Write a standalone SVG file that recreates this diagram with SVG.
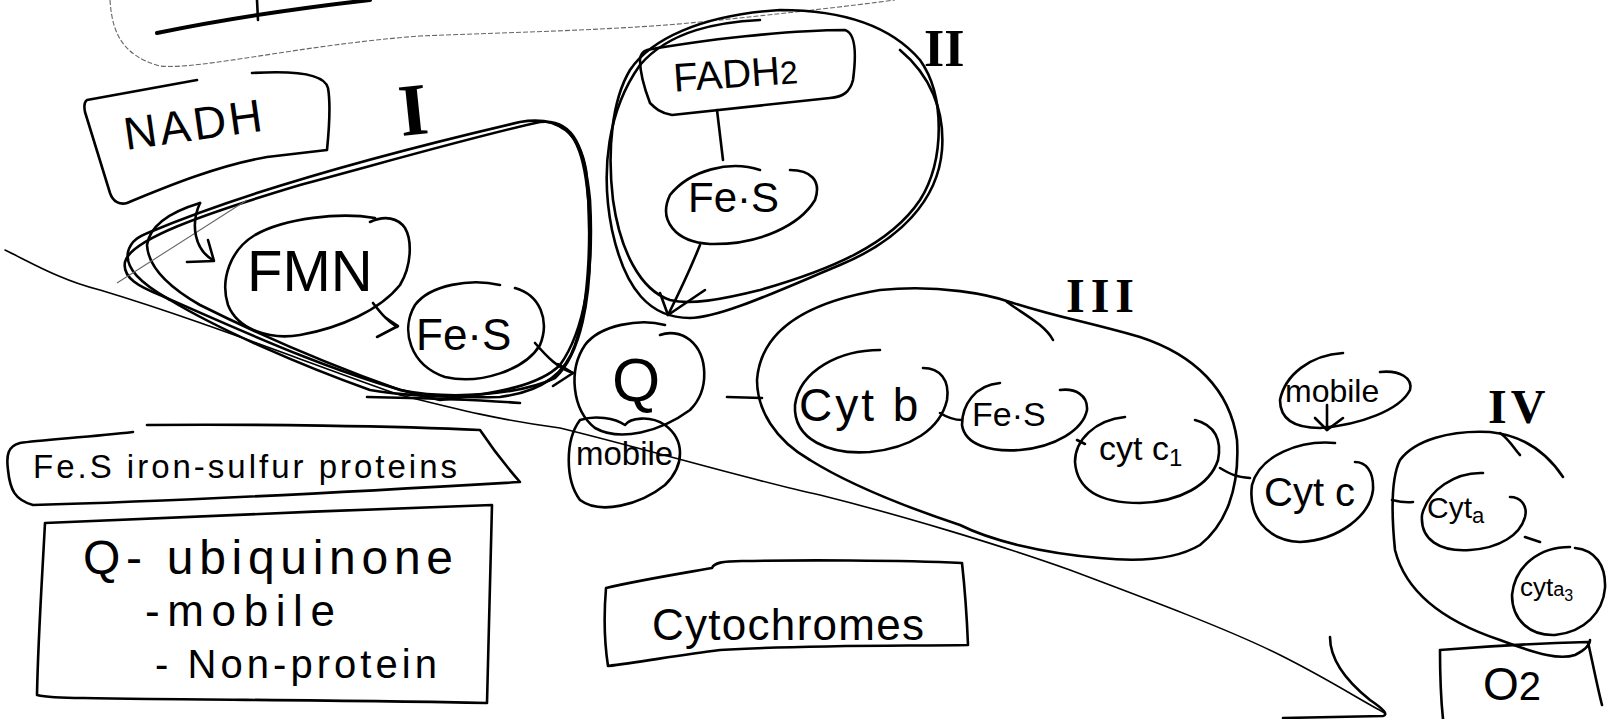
<svg xmlns="http://www.w3.org/2000/svg" width="1611" height="719" viewBox="0 0 1611 719">
  <style>
    .s { fill: none; stroke: #000; stroke-width: 2.6; stroke-linecap: round; stroke-linejoin: round; }
    .thin { fill: none; stroke: #000; stroke-width: 1.6; stroke-linecap: round; stroke-linejoin: round; }
    .faint { fill: none; stroke: #666; stroke-width: 1.1; stroke-dasharray: 5 2; }
    .t { font-family: "Liberation Sans", Arial, sans-serif; fill: #000; }
    .rn { font-family: "Liberation Serif", "Times New Roman", serif; font-weight: bold; fill: #000; }
  </style>
  <rect width="1611" height="719" fill="#fff"/>

  <!-- strokes along the top edge -->
  <g id="top-strokes">
    <path class="s" style="stroke-width:4" d="M157,33 C220,20 300,8 370,0"/>
    <path class="s" d="M257,0 L258,20"/>
    <path class="faint" d="M110,0 C112,30 120,55 160,66 C200,70 300,45 420,36 C520,32 620,30 700,22 C780,14 850,6 895,0"/>
  </g>

  <!-- membrane -->
  <g id="membrane">
    <path class="thin" d="M5,250 C30,262 60,280 100,290 C200,320 300,360 400,395 C460,410 500,420 560,428 C650,450 750,480 820,495 C900,515 1000,545 1070,570 C1150,600 1230,630 1280,655 C1330,680 1360,700 1385,713"/>
    <path class="s" d="M1330,637 C1330,660 1345,680 1370,700 C1385,710 1388,715 1383,716 L1283,718"/>
  </g>

  <!-- Complex I -->
  <g id="complex-I">
    <path class="s" d="M150,232 C250,190 400,150 520,122 C560,115 580,135 586,170 C592,230 590,300 575,345 C565,375 540,392 500,397 C440,398 400,395 370,390 C300,365 220,330 170,300 C140,283 125,268 128,252 C131,240 140,236 150,232 Z"/>
    <path class="s" d="M125,262 C130,240 200,215 300,185 C400,158 480,135 540,122 C575,118 585,150 590,200 C594,270 585,330 560,365 C540,385 500,393 440,400 C350,380 250,335 160,295 C140,287 122,278 125,262"/>
    <path class="s" d="M200,203 C170,212 150,225 147,245 C148,265 165,285 200,305 C260,335 330,365 400,390 C450,400 520,395 555,378 C580,355 592,300 590,230 C588,170 580,130 555,124"/>
    <path class="s" d="M367,397 C420,398 480,400 520,403"/>
    <path class="faint" style="stroke-dasharray:none" d="M117,283 L247,200"/>
    <text class="rn" x="399" y="134" font-size="74" transform="rotate(-6 420 110)">I</text>
  </g>

  <g id="nadh">
    <path class="s" d="M197,80 L87,100 C84,102 84,107 85,112 L110,193 C113,202 120,205 127,203 C170,185 220,165 267,157 L327,150 C329,130 331,105 328,88 C325,75 300,70 252,73"/>
    <text class="t" x="122" y="140" font-size="46" letter-spacing="3" transform="rotate(-8 195 117)">NADH</text>
  </g>

  <g id="fmn">
    <path class="s" d="M375,218 C340,212 285,218 255,235 C230,250 220,280 228,305 C238,330 270,340 300,335 C340,328 380,310 400,285 C412,265 412,240 405,228 C398,218 385,215 370,222"/>
    <text class="t" x="247" y="291" font-size="58">FMN</text>
  </g>

  <g id="fes-I">
    <path class="s" d="M500,285 C470,278 430,285 415,305 C400,330 410,365 445,377 C480,385 525,370 540,345 C550,320 540,295 515,288"/>
    <text class="t" x="416" y="350" font-size="44">Fe·S</text>
  </g>

  <g id="q">
    <path class="s" d="M665,325 C640,318 600,325 585,345 C568,370 572,410 595,428 C620,442 660,432 690,410 C710,390 708,355 690,340 C680,332 668,332 660,335"/>
    <text class="t" x="612" y="401" font-size="62">Q</text>
  </g>

  <g id="q-mobile">
    <path class="s" d="M580,420 C565,440 565,480 580,500 C600,515 640,505 665,485 C685,465 685,440 665,425 C650,415 630,418 625,425 C615,418 595,415 580,420"/>
    <text class="t" x="576" y="465" font-size="33">mobile</text>
  </g>

  <!-- Complex II -->
  <g id="complex-II">
    <path class="s" d="M780,10 C840,10 890,25 920,60 C945,95 945,160 920,200 C890,245 830,270 760,290 C720,300 690,305 670,300 C640,290 620,250 613,200 C607,150 612,100 630,70 C650,40 700,15 780,10 Z"/>
    <path class="s" d="M900,50 C930,75 945,110 942,150 C938,200 900,240 840,265 C780,290 720,318 690,318 C650,318 625,290 612,230 C600,170 608,110 640,65 C670,30 720,22 760,20"/>
    <text class="rn" x="924" y="66" font-size="52">II</text>
  </g>

  <g id="fadh2">
    <path class="s" d="M647,50 C700,40 790,30 845,30 C855,33 857,50 853,80 C850,92 843,97 830,98 L672,115 C660,113 655,108 650,103 C645,90 640,75 640,60 C640,55 643,51 647,50 Z"/>
    <text class="t" x="673" y="87" font-size="40" transform="rotate(-4 740 70)">FADH<tspan font-size="32">2</tspan></text>
  </g>

  <g id="fes-II">
    <path class="s" d="M760,170 C730,160 690,170 670,195 C658,220 675,242 710,244 C760,245 800,225 815,200 C822,180 810,170 790,170"/>
    <text class="t" x="688" y="212" font-size="42">Fe·S</text>
  </g>

  <!-- Complex III -->
  <g id="complex-III">
    <path class="s" d="M757,380 C760,340 790,305 880,290 C940,284 990,295 1010,302 C1060,318 1080,320 1140,337 C1195,355 1230,390 1237,440 C1240,490 1225,525 1200,545 C1175,560 1140,562 1100,558 C1040,553 990,540 960,525 C900,505 850,485 810,460 C775,440 757,410 757,380 Z"/>
    <path class="s" d="M1007,302 C1025,315 1045,325 1053,340"/>
    <text class="rn" x="1066" y="312" font-size="48" letter-spacing="6">III</text>
  </g>

  <g id="cyt-b">
    <path class="s" d="M880,350 C840,350 800,370 795,405 C793,440 830,455 870,452 C910,448 940,430 947,400 C950,380 940,368 923,368"/>
    <text class="t" x="799" y="421" font-size="46" letter-spacing="3">Cyt b</text>
  </g>

  <g id="fes-III">
    <path class="s" d="M1000,383 C975,385 962,405 962,425 C965,445 990,452 1020,450 C1055,447 1083,430 1087,410 C1088,395 1075,388 1060,390"/>
    <text class="t" x="972" y="426" font-size="34">Fe·S</text>
  </g>

  <g id="cyt-c1">
    <path class="s" d="M1125,417 C1095,420 1075,440 1075,462 C1077,490 1100,503 1140,503 C1180,502 1210,485 1218,460 C1222,440 1215,425 1195,420"/>
    <text class="t" x="1099" y="460" font-size="34">cyt c<tspan font-size="24" dy="6">1</tspan></text>
  </g>

  <g id="cyt-c">
    <path class="s" d="M1335,443 C1300,440 1260,455 1252,485 C1248,515 1265,540 1300,542 C1340,540 1370,515 1373,490 C1374,470 1365,462 1355,462"/>
    <text class="t" x="1264" y="506" font-size="40">Cyt c</text>
  </g>

  <g id="c-mobile">
    <path class="s" d="M1343,353 C1310,355 1285,375 1280,400 C1280,420 1295,428 1320,428 C1360,425 1400,410 1410,390 C1413,378 1400,370 1380,372"/>
    <text class="t" x="1285" y="402" font-size="32">mobile</text>
  </g>

  <!-- Complex IV -->
  <g id="complex-IV">
    <path class="s" d="M1563,477 C1545,450 1520,435 1490,432 C1450,430 1415,440 1400,460 C1390,480 1392,520 1395,550 C1405,590 1440,620 1500,640 C1540,655 1560,660 1575,655 C1585,650 1590,645 1590,640"/>
    <path class="s" d="M1500,433 C1510,440 1515,450 1520,455"/>
    <text class="rn" x="1488" y="423" font-size="48" letter-spacing="4">IV</text>
  </g>

  <g id="cyt-a">
    <path class="s" d="M1483,473 C1455,472 1428,490 1422,515 C1420,540 1440,552 1470,550 C1500,548 1520,535 1525,517 C1528,505 1520,497 1510,497"/>
    <text class="t" x="1427" y="518" font-size="30">Cyt<tspan font-size="22" dy="5">a</tspan></text>
  </g>

  <g id="cyt-a3">
    <path class="s" d="M1570,547 C1540,547 1515,565 1512,595 C1512,620 1530,636 1555,635 C1585,632 1603,612 1605,588 C1606,565 1595,550 1575,548"/>
    <text class="t" x="1520" y="596" font-size="26">cyt<tspan font-size="20">a</tspan><tspan font-size="16" dy="5">3</tspan></text>
  </g>

  <g id="o2">
    <path class="s" d="M1440,650 C1500,645 1550,643 1588,642 C1592,660 1598,690 1602,705 M1440,650 C1440,680 1441,700 1443,719"/>
    <text class="t" x="1483" y="700" font-size="46">O<tspan font-size="40">2</tspan></text>
  </g>

  <!-- legend notes -->
  <g id="note-fes">
    <path class="s" d="M133,432 C90,437 40,440 20,443 C8,446 6,455 8,470 C10,490 15,500 33,505 C150,502 350,492 520,482 C505,465 490,445 480,430 C400,426 250,424 147,425"/>
    <text class="t" x="33" y="478" font-size="33" textLength="424" lengthAdjust="spacing">Fe.S iron-sulfur proteins</text>
  </g>

  <g id="note-q">
    <path class="s" d="M45,523 C150,518 350,510 492,505 C490,580 488,650 487,703 C350,700 200,700 83,698 C60,698 45,697 37,695 C38,640 42,580 45,523 Z"/>
    <text class="t" x="83" y="574" font-size="48" textLength="370" lengthAdjust="spacing">Q- ubiquinone</text>
    <text class="t" x="145" y="626" font-size="44" textLength="190" lengthAdjust="spacing">-mobile</text>
    <text class="t" x="155" y="678" font-size="40" textLength="282" lengthAdjust="spacing">- Non-protein</text>
  </g>

  <g id="note-cyt">
    <path class="s" d="M606,588 C640,580 690,572 712,568 C714,563 722,561 742,561 C800,560 900,560 962,563 C965,590 967,620 968,645 C900,646 800,645 720,650 C680,655 640,662 608,666 C604,640 604,612 606,588 Z"/>
    <text class="t" x="652" y="640" font-size="44" textLength="272" lengthAdjust="spacing">Cytochromes</text>
  </g>

  <!-- connectors -->
  <g id="connectors">
    <path class="s" d="M200,203 C190,225 195,250 213,260"/>
    <path class="s" d="M187,262 L214,261 L208,240"/>
    <path class="s" d="M373,303 C380,312 386,320 397,327"/>
    <path class="s" d="M377,337 L398,326 L386,318"/>
    <path class="s" d="M535,343 C548,358 558,368 573,373"/>
    <path class="s" d="M553,386 L573,373 L558,364"/>
    <path class="s" d="M717,110 L723,160"/>
    <path class="s" d="M700,245 C690,270 678,295 668,315"/>
    <path class="s" d="M660,293 L668,315 L705,290"/>
    <path class="s" d="M727,397 L762,398"/>
    <path class="s" d="M940,413 C948,418 955,420 962,420"/>
    <path class="s" d="M1077,440 L1085,444"/>
    <path class="s" d="M1220,468 C1230,474 1236,477 1250,478"/>
    <path class="s" d="M1327,405 L1327,430"/>
    <path class="s" d="M1315,418 L1327,430 L1343,418"/>
    <path class="s" d="M1392,500 C1400,502 1405,503 1413,502"/>
    <path class="s" d="M1525,537 L1540,542"/>
  </g>
</svg>
